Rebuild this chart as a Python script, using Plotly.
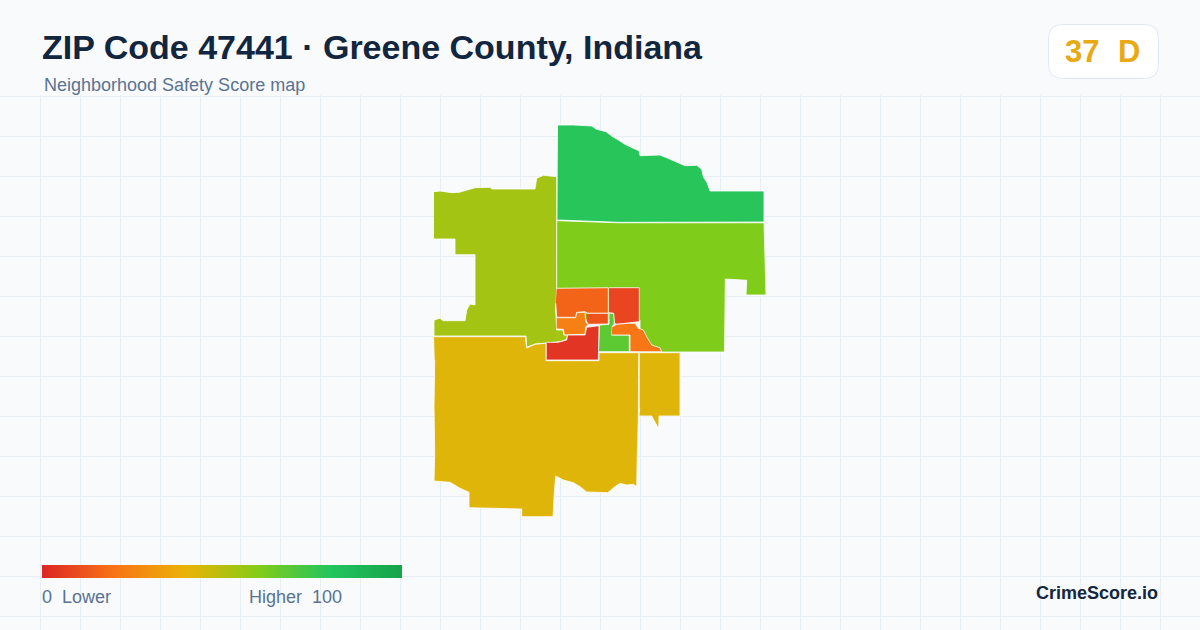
import plotly.graph_objects as go
from plotly.colors import sample_colorscale

# outlines of the neighborhoods (x, y in image pixels)
north = [(558, 125), (573.3, 125), (591.7, 126), (596.7, 129.3), (606, 131.7), (611.7, 136), (618.3, 140),
         (625, 144.3), (633.3, 148.3), (639, 150.7), (640, 155.7), (650, 155.7), (660, 155), (666.7, 157.7),
         (675, 161), (685, 165.7), (696.7, 165.3), (701.7, 169.3), (703.3, 176.7), (707.3, 183.3), (710, 191),
         (764, 191), (764, 222), (618.3, 222.3), (576.7, 220.7), (557.3, 220)]
east = [(557, 220.7), (576.7, 221.5), (618.3, 222.8), (764, 222.8), (764.5, 245), (765.3, 266), (766, 295),
        (746, 295), (746.7, 280.3), (725.3, 279), (724.5, 352), (640, 352), (640, 320), (557, 320)]
west = [(434, 191.7), (440, 191), (451.7, 192.7), (459.3, 192.3), (475, 187.7), (490, 187.3), (491.7, 189),
        (535, 189), (536.7, 178.3), (543.3, 175.3), (556.7, 176.7), (556.7, 286.7), (555.7, 310), (556.7, 330),
        (563, 330), (564, 335), (567.7, 335), (566.7, 339.3), (560, 341.7), (546, 342.7), (535, 344),
        (526.7, 347.3), (526, 336), (434, 336), (434, 320), (440, 318.3), (443.3, 320.7), (465, 320.7),
        (466.7, 310), (470, 304), (475, 305), (475, 254.7), (455, 254.7), (455, 239), (434, 239)]
south = [(434, 336.7), (525.3, 336.7), (526.7, 348), (535, 344.3), (546, 343.3), (546, 360.7), (599, 360.7),
         (599, 352.7), (638.7, 352.7), (638.7, 408.3), (638.3, 420), (637.3, 453.3), (636.7, 486.7),
         (633.3, 484.3), (626.7, 485), (620, 483.3), (615, 486.7), (607.7, 492.7), (601.7, 492.7), (586.7, 492),
         (580, 486.7), (573.3, 482.7), (563.3, 480), (555.7, 476), (554.3, 493.3), (553, 516.7), (521.7, 516.7),
         (521.7, 509), (495, 508.3), (469, 507.7), (469, 492.3), (460, 488.3), (450, 482.3), (434, 481),
         (434.7, 453.3), (434, 406.7), (434.7, 360)]
southeast = [(639.7, 352.7), (680, 352.7), (680, 416), (659, 416), (658.7, 429), (651.7, 416), (639, 416),
             (639.7, 408.3)]
center_a = [(556.7, 288.3), (608.3, 287.7), (608.3, 313.3), (587.7, 313.3), (585, 311.7), (576.7, 312.3),
            (575.7, 317.3), (556.7, 317.3), (555.7, 303.3)]
center_b = [(609, 287.7), (639.3, 287.7), (639.3, 321.7), (628.3, 322.7), (616.7, 324.3), (614.3, 323.3),
            (613.3, 313.3), (609, 312.7)]
center_c = [(586.7, 313.3), (608.3, 313.3), (608.3, 324), (599, 324.3), (588.3, 324.3), (586.7, 321.7)]
center_d = [(556.7, 317.7), (575.7, 317.7), (576.7, 312.7), (585, 312.3), (585.7, 321.7), (588.3, 325),
            (585.7, 326.7), (585, 334.3), (564.3, 335), (563.3, 329.3), (556.7, 329)]
center_e = [(546.7, 342.3), (558.3, 342.3), (566.7, 340), (567.7, 335), (585, 335), (586.7, 327.3), (599, 325.7),
            (598.3, 360), (546.7, 360)]
center_f = [(600, 325), (609, 324.3), (609, 313.3), (613.7, 313.3), (614.3, 323.3), (612.3, 326.7), (611.7, 335),
            (629.3, 335), (629.3, 351.7), (599, 351.7)]
center_g = [(612.3, 326.7), (616.7, 324.3), (628.3, 323.3), (635, 323.3), (638.3, 328.3), (643.3, 330),
            (646.7, 336.7), (651.7, 345), (660, 347.7), (661.7, 351.7), (630, 351.7), (630, 335), (611.7, 335)]

# drawing order matters, the center ones sit on top of east
areas = [north, east, west, south, southeast, center_a, center_b, center_c, center_d, center_e, center_f, center_g]
scores = [79, 61, 54, 42, 42, 16, 8, 12, 24, 4, 68, 21]

scale = [[0, '#dc2626'], [0.2, '#f97316'], [0.4, '#eab308'], [0.6, '#84cc16'], [0.8, '#22c55e'], [1, '#16a34a']]

FONT = 'Liberation Sans'
W, H = 1200, 630
BG = '#f8fafc'

fig = go.Figure()

for area, score in zip(areas, scores):
    xs, ys = zip(*area)
    fig.add_trace(go.Scatter(
        x=xs, y=ys, mode='lines', fill='toself',
        fillcolor=sample_colorscale(scale, score / 100)[0],
        line=dict(color='white', width=0.8),
        hoverinfo='skip', showlegend=False
    ))

# only here for the legend bar, the points are outside the visible range
fig.add_trace(go.Scatter(
    x=[0, 0], y=[0, 0], mode='markers', hoverinfo='skip', showlegend=False,
    marker=dict(
        color=[0, 100], cmin=0, cmax=100, colorscale=scale, size=1, showscale=True,
        colorbar=dict(
            orientation='h', x=42 / W, xanchor='left', y=1 - 565 / H, yanchor='top',
            lenmode='pixels', len=360, thicknessmode='pixels', thickness=13,
            xpad=0, ypad=0, outlinewidth=0, ticks='', showticklabels=False
        )
    )
))


def label(text, x, y, size, color, bold=False, anchor='left'):
    fig.add_annotation(
        text=f'<b>{text}</b>' if bold else text,
        xref='paper', yref='paper', x=x / W, y=1 - y / H,
        xanchor=anchor, yanchor='middle', showarrow=False, borderpad=0, borderwidth=0,
        font=dict(family=FONT, size=size, color=color)
    )


label('ZIP Code 47441 · Greene County, Indiana', 42, 47, 34, '#12263f', bold=True)
label('Neighborhood Safety Score map', 44, 85, 18, '#5a7391')
label('37', 1065, 51, 31, '#e8a913', bold=True)
label('D', 1118, 51, 31, '#e8a913', bold=True)
label('0  Lower', 42, 597, 18, '#5a7391')
label('Higher  100', 249, 597, 18, '#5a7391')
label('CrimeScore.io', 1158, 593, 18, '#12263f', bold=True, anchor='right')


# badge box with round corners, in paper fractions
def px(x, y):
    return f'{x / W:.5f},{1 - y / H:.5f}'


x0, x1, y0, y1, r = 1048.5, 1158.5, 24.5, 78.5, 14
badge = (f'M{px(x0 + r, y0)} L{px(x1 - r, y0)} Q{px(x1, y0)} {px(x1, y0 + r)} L{px(x1, y1 - r)} '
         f'Q{px(x1, y1)} {px(x1 - r, y1)} L{px(x0 + r, y1)} Q{px(x0, y1)} {px(x0, y1 - r)} '
         f'L{px(x0, y0 + r)} Q{px(x0, y0)} {px(x0 + r, y0)} Z')
fig.add_shape(type='path', xref='paper', yref='paper', path=badge, fillcolor='white',
              line=dict(color='#e2e8f0', width=1), layer='below')

grid = dict(showgrid=True, gridcolor='#e8eff4', gridwidth=1, zeroline=False, showticklabels=False,
            ticks='', showline=False, dtick=40)

# y range starts a bit above the first grid line, plotly drops lines right at the edge
fig.update_layout(
    width=W, height=H, margin=dict(l=0, r=0, t=0, b=0),
    paper_bgcolor=BG, plot_bgcolor=BG,
    xaxis=dict(range=[0, W], tick0=40.5, **grid),
    yaxis=dict(range=[H, 95], domain=[0, 1 - 95 / H], tick0=96.5, **grid),
    showlegend=False
)

# page margin off so the figure fills the window
fig.write_html('out.html', config={'displayModeBar': False},
               post_script="document.body.style.margin='0';document.body.style.background='#f8fafc';")
